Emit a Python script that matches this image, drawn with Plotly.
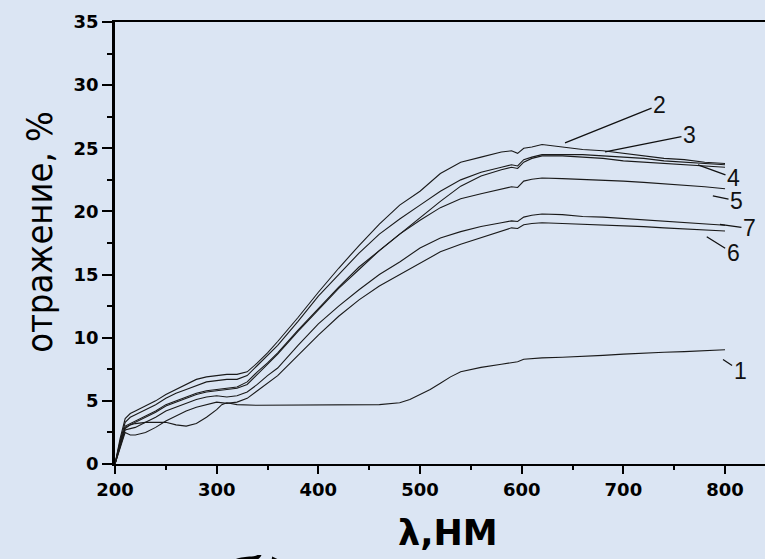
import plotly.graph_objects as go

# ---- data ----
wl = [200, 205, 210, 215, 220, 230, 240, 250, 260, 270, 280, 290, 300, 310, 320, 330, 340, 350, 360,
      380, 400, 420, 440, 460, 480, 500, 520, 540, 560, 580, 590, 596, 602, 610, 620, 640, 660, 680,
      700, 720, 740, 760, 780, 800]

c2 = [0, 2.0, 3.6, 4.0, 4.2, 4.6, 5.0, 5.5, 5.9, 6.3, 6.7, 6.9, 7.0, 7.1, 7.1, 7.3, 8.0, 8.8, 9.7,
      11.6, 13.6, 15.5, 17.3, 19.0, 20.5, 21.6, 23.0, 23.9, 24.3, 24.7, 24.8, 24.6, 25.0, 25.1, 25.3, 25.1, 24.9, 24.8,
      24.6, 24.4, 24.2, 24.1, 23.9, 23.8]
c3 = [0, 1.8, 3.3, 3.7, 3.9, 4.3, 4.7, 5.2, 5.6, 5.9, 6.2, 6.5, 6.6, 6.7, 6.7, 7.0, 7.8, 8.6, 9.4,
      11.3, 13.3, 15.0, 16.7, 18.2, 19.4, 20.5, 21.6, 22.5, 23.1, 23.5, 23.7, 23.6, 24.1, 24.3, 24.5, 24.5, 24.5, 24.4,
      24.3, 24.2, 24.0, 23.9, 23.8, 23.7]
c4 = [0, 1.7, 3.0, 3.2, 3.4, 3.8, 4.2, 4.7, 5.0, 5.3, 5.6, 5.8, 5.9, 6.0, 6.1, 6.5, 7.3, 8.0, 8.8,
      10.6, 12.3, 14.0, 15.6, 16.9, 18.2, 19.5, 20.8, 22.0, 22.8, 23.3, 23.5, 23.4, 23.9, 24.2, 24.4, 24.4, 24.3, 24.2,
      24.0, 23.9, 23.8, 23.7, 23.6, 23.5]
c5 = [0, 1.6, 2.9, 3.1, 3.3, 3.7, 4.1, 4.6, 4.9, 5.2, 5.5, 5.7, 5.8, 5.9, 6.0, 6.3, 7.1, 7.9, 8.7,
      10.5, 12.2, 13.9, 15.4, 16.9, 18.2, 19.3, 20.3, 21.0, 21.4, 21.8, 21.95, 21.9, 22.4, 22.55, 22.65, 22.6, 22.55, 22.5,
      22.4, 22.3, 22.2, 22.1, 21.95, 21.8]
c7 = [0, 1.4, 2.7, 2.8, 2.9, 3.3, 3.7, 4.2, 4.5, 4.8, 5.1, 5.3, 5.4, 5.3, 5.4, 5.7, 6.3, 7.0, 7.6,
      9.4, 11.1, 12.5, 13.8, 15.0, 16.0, 17.1, 17.9, 18.4, 18.8, 19.1, 19.25, 19.2, 19.55, 19.7, 19.8, 19.75, 19.6, 19.55,
      19.45, 19.35, 19.2, 19.1, 19.0, 18.9]
c6 = [0, 1.2, 2.5, 2.3, 2.3, 2.5, 2.9, 3.4, 3.8, 4.2, 4.5, 4.7, 4.9, 4.8, 4.9, 5.2, 5.8, 6.4, 7.0,
      8.6, 10.2, 11.7, 13.0, 14.1, 15.0, 15.9, 16.8, 17.4, 17.9, 18.4, 18.7, 18.65, 18.95, 19.05, 19.1, 19.05, 19.0, 18.95,
      18.9, 18.8, 18.7, 18.6, 18.55, 18.45]

wl1 = [200, 205, 210, 215, 220, 230, 240, 250, 260, 270, 280, 290, 300, 305, 310, 320, 340, 360, 380, 400,
       420, 440, 460, 480, 490, 500, 510, 520, 530, 540, 560, 580, 596, 602, 620, 640, 660, 680, 700, 720,
       740, 760, 780, 800]
c1 = [0, 1.5, 2.8, 3.1, 3.2, 3.3, 3.3, 3.3, 3.1, 3.0, 3.2, 3.7, 4.3, 4.7, 4.85, 4.7, 4.65, 4.65, 4.65, 4.65,
      4.65, 4.65, 4.7, 4.85, 5.1, 5.5, 5.9, 6.4, 6.9, 7.3, 7.65, 7.9, 8.1, 8.3, 8.4, 8.45, 8.5, 8.6, 8.7, 8.8,
      8.85, 8.9, 8.95, 9.05]

labels = ["1", "2", "3", "4", "5", "6", "7"]
label_tip_x = [798, 642.6, 682, 773.4, 788, 782, 795]
label_tip_y = [8.27, 25.43, 24.71, 23.69, 21.23, 18.0, 18.97]
label_txt_x = [814.8, 735.6, 765, 808.3, 811.3, 808, 824]
label_txt_y = [7.38, 28.43, 26.05, 22.66, 20.84, 16.68, 18.66]

x_title = "λ,НМ"
y_title = "отражение, %"
panel_tag = "б)"

BG = "#dbe5f3"

L, T, PW, PH = 115, 22, 650, 442.3


def px_to_paper(px, py):
    return (px - 115) / PW, (464.3 - py) / PH


fig = go.Figure()
series = [(wl1, c1), (wl, c2), (wl, c3), (wl, c4), (wl, c5), (wl, c6), (wl, c7)]
for xs, ys in series:
    fig.add_trace(go.Scatter(x=xs, y=ys, mode="lines",
                             line=dict(color="#1a1a1a", width=1.1),
                             showlegend=False, hoverinfo="skip"))

for t, tx, ty, lx, ly in zip(labels, label_tip_x, label_tip_y, label_txt_x, label_txt_y):
    fig.add_annotation(x=tx, y=ty, ax=lx, ay=ly, axref="x", ayref="y", xref="x", yref="y",
                       text=t, showarrow=True, arrowhead=0, arrowwidth=1.3, arrowcolor="#111",
                       font=dict(family="Liberation Sans, Arial", size=23, color="#111"),
                       standoff=0, startstandoff=0)

xt = px_to_paper(448, 533)
fig.add_annotation(xref="paper", yref="paper", x=xt[0], y=xt[1],
                   xanchor="center", yanchor="middle", text=x_title, showarrow=False,
                   font=dict(family="DejaVu Sans", size=35, color="#000", weight="bold"))

yt = px_to_paper(40, 232)
fig.add_annotation(xref="paper", yref="paper", x=yt[0], y=yt[1],
                   text=y_title, textangle=-90, showarrow=False, xanchor="center", yanchor="middle",
                   font=dict(family="DejaVu Sans Condensed, Liberation Sans Narrow, Arial Narrow",
                             size=36, color="#000"))

pt = px_to_paper(215, 543)
fig.add_annotation(xref="paper", yref="paper", x=pt[0], y=pt[1],
                   text=panel_tag, showarrow=False, xanchor="left", yanchor="top",
                   font=dict(family="DejaVu Serif", size=64, color="#000", style="italic", weight="bold"))

fig.update_layout(
    width=765, height=559,
    margin=dict(l=L, r=765 - L - PW, t=T, b=559 - T - PH, autoexpand=False),
    paper_bgcolor=BG, plot_bgcolor=BG,
    xaxis=dict(range=[200, 839.3], tickvals=[200, 300, 400, 500, 600, 700, 800],
               showgrid=False, zeroline=False, showline=True, linecolor="#000", linewidth=2,
               mirror=True, ticks="outside", ticklen=8, tickwidth=2, tickcolor="#000",
               minor=dict(ticks="outside", ticklen=4, tickwidth=1.5, tickcolor="#000", dtick=50,
                          tick0=250, showgrid=False),
               tickfont=dict(family="DejaVu Sans", size=18, color="#000", weight="bold")),
    yaxis=dict(range=[0, 35], tickvals=[0, 5, 10, 15, 20, 25, 30, 35],
               showgrid=False, zeroline=False, showline=True, linecolor="#000", linewidth=2.5,
               mirror=False, ticks="outside", ticklen=10, tickwidth=2, tickcolor="#000",
               minor=dict(ticks="outside", ticklen=5, tickwidth=1.5, tickcolor="#000", dtick=2.5,
                          showgrid=False),
               tickfont=dict(family="DejaVu Sans", size=18, color="#000", weight="bold")),
)

fig.write_html("out.html",
               config={"displayModeBar": False},
               post_script="document.body.style.margin='0';"
                           "document.body.style.background='" + BG + "';"
                           "document.body.style.overflow='hidden';")
